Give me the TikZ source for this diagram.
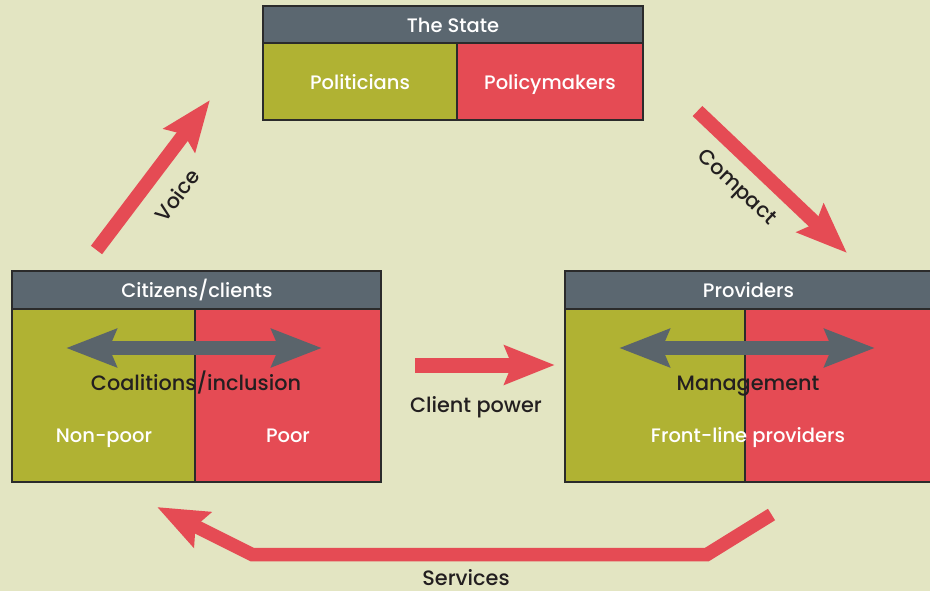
\documentclass[tikz,border=0pt]{standalone}
\usepackage{fontspec}
\setmainfont{Poppins Medium}
\usetikzlibrary{arrows.meta}
\definecolor{bgc}{HTML}{E3E5C2}
\definecolor{olive}{HTML}{B0B233}
\definecolor{redc}{HTML}{E54B54}
\definecolor{headc}{HTML}{5B6770}
\definecolor{arrowgray}{HTML}{5A646B}
\definecolor{borderc}{HTML}{2B2B2B}
\definecolor{darktext}{HTML}{231F20}
\begin{document}
\begin{tikzpicture}[x=1pt,y=-1pt,
  cell/.style={draw=borderc,line width=2.5pt,rectangle,inner sep=0pt},
  whitetext/.style={text=white,font=\fontsize{19.5}{24}\selectfont,inner sep=0pt,anchor=base},
  darklabel/.style={text=darktext,font=\fontsize{20.8}{25}\selectfont,inner sep=0pt},
  redarrow/.style={draw=redc,line width=14pt,-{Stealth[length=50pt,width=38pt,inset=7pt]}},
  grayarrow/.style={draw=arrowgray,line width=14pt,{Stealth[length=50pt,width=37pt,inset=7pt]}-{Stealth[length=50pt,width=37pt,inset=7pt]}}
]
\useasboundingbox (0,0) rectangle (930,591);
\clip (0,0) rectangle (930,591);
\fill[bgc] (0,0) rectangle (930,591);

% The State
\node[cell,fill=headc,minimum width=380pt,minimum height=37pt] (sh) at (453,24.5) {};
\node[cell,fill=olive,minimum width=194pt,minimum height=77pt] (pol) at (360,81.5) {};
\node[cell,fill=redc,minimum width=186pt,minimum height=77pt] (pom) at (550,81.5) {};
\node[whitetext] (shtext) at (453,33) {The State};
\node[whitetext] (poltext) at (360,90) {Politicians};
\node[whitetext] (pomtext) at (550,90) {Policymakers};

% Citizens/clients
\node[cell,fill=headc,minimum width=369pt,minimum height=38pt] (ch) at (196.5,290) {};
\node[whitetext] (chtext) at (197,298) {Citizens/clients};
\node[cell,fill=olive,minimum width=183pt,minimum height=173pt] (np) at (103.5,395.5) {};
\node[cell,fill=redc,minimum width=186pt,minimum height=173pt] (po) at (288,395.5) {};
\node[whitetext] (nptext) at (104,442) {Non-poor};
\node[whitetext] (potext) at (288,442) {Poor};
\coordinate (cl) at (66,348);
\coordinate (cr) at (322,348);
\draw[grayarrow] (cl) -- (cr);
\node[darklabel,anchor=base] (coal) at (196,390) {Coalitions/inclusion};

% Providers
\node[cell,fill=headc,minimum width=400pt,minimum height=38pt] (ph) at (765,290) {};
\node[whitetext] (phtext) at (748.5,298) {Providers};
\node[cell,fill=olive,minimum width=180pt,minimum height=173pt] (mg) at (655,395.5) {};
\node[cell,fill=redc,minimum width=220pt,minimum height=173pt] (fl) at (855,395.5) {};
\coordinate (pl) at (619,348);
\coordinate (pr) at (875,348);
\draw[grayarrow] (pl) -- (pr);
\node[darklabel,anchor=base] (mgtext) at (748,390) {Management};
\node[whitetext] (fltext) at (748,442) {Front-line providers};

% Voice
\coordinate (vt) at (96.5,250);
\coordinate (vh) at (210,100);
\draw[redarrow] (vt) -- (vh);
\node[darklabel,rotate=53] (voice) at (177,195) {Voice};

% Compact
\coordinate (ct) at (697.5,111);
\coordinate (chd) at (847,253);
\draw[redarrow] (ct) -- (chd);
\node[darklabel,rotate=-43.5] (compact) at (736,188) {Compact};

% Client power
\coordinate (cpt) at (415,365);
\coordinate (cph) at (555,365);
\draw[redarrow,line width=15pt] (cpt) -- (cph);
\node[darklabel,anchor=base] (cptext) at (476,412) {Client power};

% Services
\coordinate (s1) at (771.5,514.5);
\coordinate (s2) at (707,554.5);
\coordinate (s3) at (252,554.5);
\coordinate (s4) at (157,507);
\draw[redarrow,line width=13.5pt,line join=miter] (s1) -- (s2) -- (s3) -- (s4);
\node[darklabel,anchor=base] (svtext) at (466,585) {Services};
\end{tikzpicture}
\end{document}
